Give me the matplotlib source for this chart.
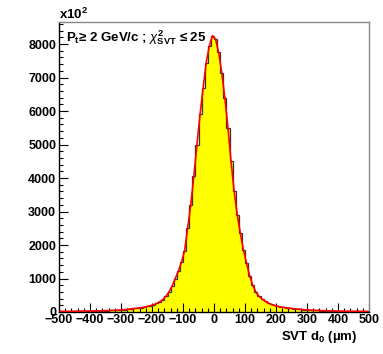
import numpy as np
import matplotlib
matplotlib.use("Agg")
import matplotlib.pyplot as plt
from matplotlib.ticker import MultipleLocator

plt.rcParams['font.family'] = ['Liberation Sans', 'DejaVu Sans']
plt.rcParams['mathtext.fontset'] = 'custom'
plt.rcParams['mathtext.rm'] = 'Liberation Sans:bold'
plt.rcParams['mathtext.bf'] = 'Liberation Sans:bold'
plt.rcParams['mathtext.it'] = 'Liberation Sans:italic'
plt.rcParams['mathtext.sf'] = 'Liberation Sans:bold'

# Data: SVT d0 histogram, 100 bins of 10 um from -500 to 500 (counts in units of x10^2)
bin_edges = np.arange(-500, 501, 10)
counts = [
    18, 19, 20, 21, 22, 23, 24, 25, 27, 28,
    30, 32, 34, 36, 39, 42, 45, 49, 54, 59,
    65, 73, 84, 95, 105, 118, 130, 145, 165, 190,
    215, 255, 305, 370, 470, 600, 780, 1000, 1220, 1480,
    1820, 2500, 3200, 4050, 5000, 5900, 6700, 7450, 7950, 8250,
    8150, 7750, 7150, 6400, 5500, 4500, 3600, 2900, 2350, 1850,
    1450, 1080, 800, 600, 470, 390, 320, 270, 225, 195,
    170, 150, 138, 125, 112, 100, 92, 82, 74, 66,
    60, 55, 50, 46, 42, 39, 36, 33, 31, 29,
    27, 26, 24, 23, 22, 21, 20, 19, 18, 17,
]
# fit curve sampled at bin centres
fit_vals = counts

centers = 0.5 * (bin_edges[:-1] + bin_edges[1:])

fig = plt.figure(figsize=(3.83, 3.54), dpi=100)
ax = fig.add_axes([59/383, 42/354, 310/383, 290/354])

ax.stairs(counts, bin_edges, fill=True, color='#ffff00', zorder=1)
ax.stairs(counts, bin_edges, fill=False, color='#333333', linewidth=0.9, zorder=2)
ax.plot(centers, fit_vals, color='#ff0000', linewidth=1.2, zorder=3)

ax.set_xlim(-500, 500)
ax.set_ylim(0, 8660)

ax.xaxis.set_major_locator(MultipleLocator(100))
ax.xaxis.set_minor_locator(MultipleLocator(20))
ax.yaxis.set_major_locator(MultipleLocator(1000))
ax.yaxis.set_minor_locator(MultipleLocator(200))

ax.tick_params(axis='both', which='major', direction='in', length=6.5, width=0.8,
               labelsize=9, pad=2)
ax.tick_params(axis='x', which='major', pad=1.5)
ax.tick_params(axis='both', which='minor', direction='in', length=3.2, width=0.8)
ax.tick_params(top=False, right=False, which='both')
ax.xaxis.set_major_formatter(matplotlib.ticker.FuncFormatter(
    lambda v, p: f"{int(v)}".replace('-', '\u2212')))
ax.yaxis.set_major_formatter(matplotlib.ticker.FuncFormatter(lambda v, p: f"{int(v)}"))
for lab in ax.get_xticklabels() + ax.get_yticklabels():
    lab.set_fontweight('bold')

ax.spines['left'].set_color('black')
ax.spines['bottom'].set_color('black')
ax.spines['top'].set_color('#888888')
ax.spines['right'].set_color('#888888')
for s in ax.spines.values():
    s.set_linewidth(1.0)

fig.text(357/383, 1 - 337/354, "SVT d$_{\\mathrm{0}}$ (\u00b5m)", ha='right', va='center',
         fontsize=9.5, fontweight='bold')
fig.text(59/383, 1 - 14/354, r"x10$^{\mathrm{2}}$", ha='left', va='center',
         fontsize=9.5, fontweight='bold')
fig.text(66/383, 1 - 38/354,
         "P$_{\\mathrm{t}}$\u2265 2 GeV/c ; $\\chi^{\\mathrm{2}}_{\\mathrm{SVT}}$ \u2264 25",
         ha='left', va='center', fontsize=9.5, fontweight='bold')

fig.savefig("out.png", dpi=100)
